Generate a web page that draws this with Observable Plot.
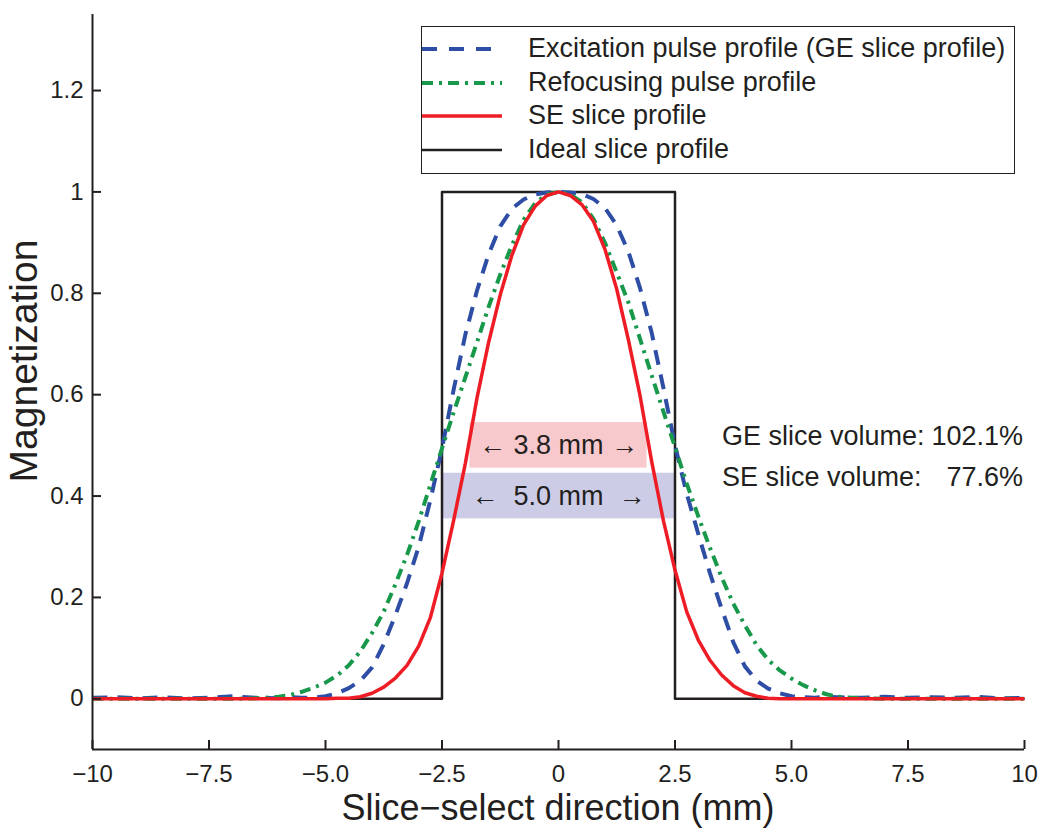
<!DOCTYPE html>
<html><head><meta charset="utf-8">
<script src="https://cdn.jsdelivr.net/npm/d3@7"></script>
<script src="https://cdn.jsdelivr.net/npm/@observablehq/plot@0.6"></script>
<style>
body{margin:0;background:#fff;font-family:"Liberation Sans",Arial,Helvetica,sans-serif;color:#231f20;}
#wrap{position:relative;width:1050px;height:834px;overflow:hidden;}
#wrap svg{position:absolute;left:0;top:0;}
.legend{position:absolute;left:421px;top:26px;width:592px;height:141px;border:1.5px solid #231f20;background:#fff;padding-top:5px;box-sizing:content-box;}
.legend .row{position:relative;height:33.7px;line-height:33.7px;font-size:27px;white-space:nowrap;}
.legend .row svg{position:absolute;left:17px;top:0;}
.legend .row span{position:absolute;left:106px;top:0;}
.vol{position:absolute;left:722px;top:416px;width:301px;font-size:27px;line-height:41px;}
.vol div{display:flex;justify-content:space-between;white-space:nowrap;}
.xlab{position:absolute;left:92px;width:932px;top:793px;text-align:center;font-size:36px;line-height:29px;white-space:nowrap;}
.ylab{position:absolute;left:23px;top:361px;transform:translate(-50%,-50%) rotate(-90deg);font-size:39px;line-height:31px;white-space:nowrap;}
</style></head>
<body><div id="wrap"></div>
<script>
// ---- data ----
const xs = [-10,-9.5,-9,-8.5,-8,-7.5,-7,-6.5,-6,-5.75,-5.5,-5.25,-5,-4.75,-4.5,-4.25,-4,-3.75,-3.5,-3.25,-3,-2.75,-2.5,-2.25,-2,-1.75,-1.5,-1.25,-1,-0.75,-0.5,-0.25,0,
            0.25,0.5,0.75,1,1.25,1.5,1.75,2,2.25,2.5,2.75,3,3.25,3.5,3.75,4,4.25,4.5,4.75,5,5.25,5.5,5.75,6,6.5,7,7.5,8,8.5,9,9.5,10];
const excitation = [0.002,0.003,0.001,0.003,0.001,0.002,0.005,0.002,0.001,0.003,0.002,0.002,0.005,0.011,0.021,0.036,0.062,0.108,0.165,0.228,0.300,0.392,0.494,0.610,0.718,0.805,0.877,0.932,0.967,0.985,0.995,0.999,1.000,
            0.999,0.996,0.986,0.968,0.934,0.882,0.810,0.722,0.614,0.500,0.405,0.325,0.248,0.178,0.112,0.064,0.036,0.020,0.011,0.005,0.003,0.002,0.004,0.003,0.002,0.004,0.002,0.003,0.002,0.004,0.001,0.002];
const refocusing = [0,0,0,0,0,0,0,0.001,0.004,0.008,0.014,0.022,0.032,0.046,0.066,0.094,0.130,0.172,0.226,0.284,0.350,0.422,0.494,0.565,0.634,0.703,0.773,0.837,0.895,0.945,0.978,0.995,1.000,
            0.995,0.980,0.947,0.899,0.841,0.782,0.710,0.638,0.567,0.497,0.425,0.360,0.298,0.240,0.188,0.145,0.106,0.077,0.056,0.040,0.027,0.017,0.009,0.004,0.001,0,0,0,0,0,0,0];
const seProfile = [0,0,0,0,0,0,0,0,0,0,0,0,0,0.001,0.001,0.004,0.011,0.023,0.041,0.066,0.104,0.160,0.248,0.352,0.464,0.593,0.703,0.797,0.875,0.935,0.972,0.993,1.000,
            0.993,0.975,0.942,0.886,0.808,0.708,0.598,0.468,0.352,0.254,0.172,0.116,0.076,0.047,0.026,0.012,0.005,0.001,0,0,0,0,0,0,0,0,0,0,0,0,0,0];
const idealX = [-10,-2.5,-2.5,2.5,2.5,10];
const idealY = [0,0,1,1,0,0];
const seriesNames = ["Excitation pulse profile (GE slice profile)","Refocusing pulse profile","SE slice profile","Ideal slice profile"];
const xDomain = [-10,10];
const yDomain = [-0.1,1.35];
const xTicks = [-10,-7.5,-5,-2.5,0,2.5,5,7.5,10];
const xTickLabels = ["\u221210","\u22127.5","\u22125.0","\u22122.5","0","2.5","5.0","7.5","10"];
const yTicks = [0,0.2,0.4,0.6,0.8,1,1.2];
const yTickLabels = ["0","0.2","0.4","0.6","0.8","1","1.2"];
const bandWidths = [3.8,5.0];
const bandLow = [0.455,0.355];
const bandHigh = [0.545,0.445];
const bandLabels = ["\u2190 3.8 mm \u2192","\u2190\u00a0\u00a05.0 mm\u00a0\u00a0\u2192"];
const volumeLabels = ["GE slice volume:","SE slice volume:"];
const volumeValues = ["102.1%","77.6%"];
const xTitle = "Slice\u2212select direction (mm)";
const yTitle = "Magnetization";

// ---- styles ----
const ink = "#231f20";
const styles = [
  {color:"#2e4ea5", width:4, dash:"15,10"},
  {color:"#17984a", width:4, dash:"11,6,3,6"},
  {color:"#ee1c25", width:3.5, dash:null},
  {color:ink, width:2.5, dash:null}
];
const bandFills = ["#f8c9cc","#cdcce6"];

const pts = ys => xs.map((x,i)=>({x, y: ys[i]}));
const ideal = idealX.map((x,i)=>({x, y: idealY[i]}));
const bands = bandWidths.map((w,i)=>({x1:-w/2, x2:w/2, lo:bandLow[i], hi:bandHigh[i], label:bandLabels[i], fill:bandFills[i]}));

const lineOpts = s => ({x:"x", y:"y", stroke:s.color, strokeWidth:s.width, strokeDasharray:s.dash, strokeLinecap:"butt", strokeLinejoin:"round"});

const plot = Plot.plot({
  width:1050, height:834,
  marginLeft:92, marginRight:26, marginTop:14, marginBottom:85,
  style:{fontFamily:"'Liberation Sans', Arial, sans-serif", fontSize:"24px", color:ink, background:"transparent", overflow:"visible"},
  x:{domain:xDomain, label:null},
  y:{domain:yDomain, label:null},
  marks:[
    Plot.rect(bands, {x1:"x1", x2:"x2", y1:"lo", y2:"hi", fill:"fill"}),
    Plot.text(bands, {x:d=>(d.x1+d.x2)/2, y:d=>(d.lo+d.hi)/2, text:"label", fontSize:27, fill:ink}),
    Plot.line(ideal, lineOpts(styles[3])),
    Plot.line(pts(excitation), lineOpts(styles[0])),
    Plot.line(pts(refocusing), lineOpts(styles[1])),
    Plot.line(pts(seProfile), lineOpts(styles[2])),
    Plot.ruleX([xDomain[0]], {stroke:ink, strokeWidth:2}),
    Plot.ruleY([yDomain[0]], {stroke:ink, strokeWidth:2}),
    Plot.axisX({ticks:xTicks, tickSize:-9, strokeWidth:2, stroke:ink, tickFormat:()=>"", label:null}),
    Plot.axisX({ticks:xTicks, tickSize:0, tickPadding:15, fontSize:24, fill:ink, tickFormat:d=>xTickLabels[xTicks.indexOf(d)], label:null}),
    Plot.axisY({ticks:yTicks, tickSize:-9, strokeWidth:2, stroke:ink, tickFormat:()=>"", label:null}),
    Plot.axisY({ticks:yTicks, tickSize:0, tickPadding:9, fontSize:24, fill:ink, tickFormat:d=>yTickLabels[yTicks.indexOf(d)], label:null})
  ]
});
const wrap = document.getElementById("wrap");
wrap.appendChild(plot);

// legend
const leg = document.createElement("div");
leg.className = "legend";
seriesNames.forEach((name,i)=>{
  const s = styles[i];
  const row = document.createElement("div");
  row.className = "row";
  row.innerHTML = `<svg width="80" height="34"><line x1="0" y1="17" x2="80" y2="17" stroke="${s.color}" stroke-width="${s.width}" ${s.dash?`stroke-dasharray="${i===0?"15,12":s.dash}"`:""}/></svg><span></span>`;
  row.querySelector("span").textContent = name;
  leg.appendChild(row);
});
wrap.appendChild(leg);

// volume annotations
const vol = document.createElement("div");
vol.className = "vol";
volumeLabels.forEach((l,i)=>{
  const r = document.createElement("div");
  const a = document.createElement("span"); a.textContent = l;
  const b = document.createElement("span"); b.textContent = volumeValues[i];
  r.appendChild(a); r.appendChild(b); vol.appendChild(r);
});
wrap.appendChild(vol);

const xl = document.createElement("div"); xl.className="xlab"; xl.textContent = xTitle; wrap.appendChild(xl);
const yl = document.createElement("div"); yl.className="ylab"; yl.textContent = yTitle; wrap.appendChild(yl);
</script>
</body></html>
